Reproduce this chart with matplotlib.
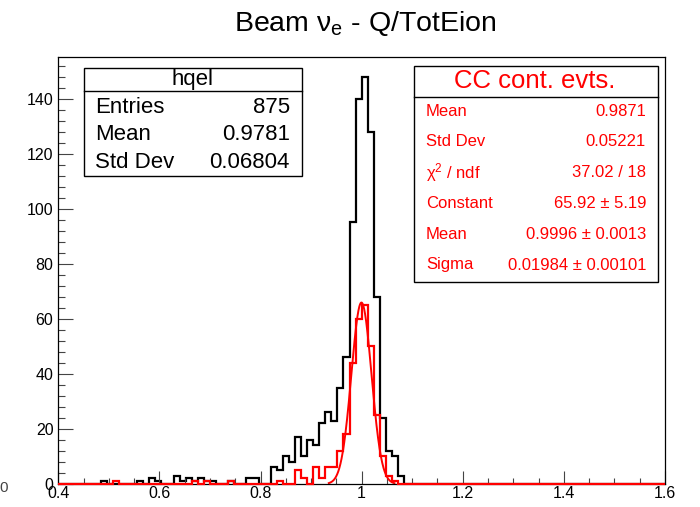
import numpy as np
import matplotlib
matplotlib.use("Agg")
import matplotlib.pyplot as plt
from matplotlib.patches import Rectangle
from matplotlib.lines import Line2D
from matplotlib.ticker import MultipleLocator

plt.rcParams["font.family"] = ["Liberation Sans", "DejaVu Sans"]
plt.rcParams["mathtext.fontset"] = "custom"
plt.rcParams["mathtext.rm"] = "Liberation Sans"
plt.rcParams["mathtext.it"] = "Liberation Sans:italic"
plt.rcParams["mathtext.bf"] = "Liberation Sans:bold"

# histogram binning: 100 bins on [0.4, 1.6]
X_MIN, X_MAX, N_BINS = 0.4, 1.6, 100

# all events (black): lower bin edge -> entries
black_lo = [0.484, 0.556, 0.580, 0.592, 0.628, 0.640, 0.652, 0.664, 0.676,
            0.688, 0.700, 0.736, 0.772, 0.784, 0.820, 0.832, 0.844, 0.856,
            0.868, 0.880, 0.892, 0.904, 0.916, 0.928, 0.940, 0.952, 0.964,
            0.976, 0.988, 1.000, 1.012, 1.024, 1.036, 1.048, 1.060, 1.072]
black_n = [1, 1, 2, 1, 3, 1, 2, 1, 2,
           1, 1, 1, 2, 2, 6, 5, 10, 8,
           17, 10, 16, 14, 22, 26, 23, 35, 46,
           95, 140, 148, 128, 68, 24, 12, 10, 3]

# CC contained events (red)
red_lo = [0.508, 0.664, 0.688, 0.736, 0.832, 0.868, 0.880, 0.904, 0.916,
          0.928, 0.940, 0.952, 0.964, 0.976, 0.988, 1.000, 1.012, 1.024,
          1.036, 1.048, 1.060]
red_n = [1, 1, 1, 1, 1, 5, 2, 6, 2,
         6, 6, 12, 18, 44, 60, 65, 50, 25,
         10, 3, 1]

# gaussian fit result
fit_const, fit_mean, fit_sigma = 65.92, 0.9996, 0.01984
fit_range = (0.935, 1.065)

stats_black = [("Entries", "875"), ("Mean", "0.9781"), ("Std Dev", "0.06804")]
stats_red = [("Mean", "0.9871"), ("Std Dev", "0.05221"),
             (r"$\mathregular{\chi^{2}}$ / ndf", "37.02 / 18"),
             ("Constant", "65.92 \u00b1 5.19"),
             ("Mean", "0.9996 \u00b1 0.0013"), ("Sigma", "0.01984 \u00b1 0.00101")]

W, H = 700, 507


def fill_bins(lo, n):
    edges = np.linspace(X_MIN, X_MAX, N_BINS + 1)
    vals = np.zeros(N_BINS)
    idx = np.round((np.array(lo) - X_MIN) / (X_MAX - X_MIN) * N_BINS).astype(int)
    vals[idx] = n
    return edges, vals


def fx(x):
    return x / W


def fy(y):
    return 1 - y / H


fig = plt.figure(figsize=(W / 100, H / 100), dpi=100)
ax = fig.add_axes([fx(58.3), fy(484), (665 - 58.3) / W, (484 - 57.3) / H])

edges, vb = fill_bins(black_lo, black_n)
_, vr = fill_bins(red_lo, red_n)
ax.stairs(vb, edges, color="black", lw=1.6)
ax.stairs(vr, edges, color="red", lw=1.6, clip_on=False, zorder=3)
xf = np.linspace(fit_range[0], fit_range[1], 300)
ax.plot(xf, fit_const * np.exp(-0.5 * ((xf - fit_mean) / fit_sigma) ** 2),
        color="red", lw=1.4)

ax.set_xlim(X_MIN, X_MAX)
ax.set_ylim(0, 155)
ax.xaxis.set_major_locator(MultipleLocator(0.2))
ax.xaxis.set_minor_locator(MultipleLocator(0.05))
ax.yaxis.set_major_locator(MultipleLocator(20))
ax.yaxis.set_minor_locator(MultipleLocator(4))
ax.set_xticks([0.4, 0.6, 0.8, 1.0, 1.2, 1.4, 1.6])
ax.set_xticklabels(["0.4", "0.6", "0.8", "1", "1.2", "1.4", "1.6"])
ax.tick_params(axis="x", which="major", direction="in", length=9.5, width=0.8,
               labelsize=11.5, pad=1.5, color="#444444")
ax.tick_params(axis="x", which="minor", direction="in", length=4.5, width=0.8,
               color="#444444")
ax.tick_params(axis="y", which="major", direction="in", length=11, width=0.8,
               labelsize=11.5, pad=3.5, color="#444444")
ax.tick_params(axis="y", which="minor", direction="in", length=5, width=0.8,
               color="#444444")
for s in ax.spines.values():
    s.set_linewidth(0.9)
    s.set_color("black")

# title
fig.text(fx(365), fy(23), r"Beam $\mathregular{\nu_{e}}$ - Q/TotEion",
         ha="center", va="center", fontsize=20.5)
fig.text(fx(8), fy(488), "0", ha="right", va="center", fontsize=11, color="#444444")

# stats box (black)
fig.add_artist(Rectangle((fx(84), fy(176)), fx(302 - 84), (176 - 67.5) / H,
                         transform=fig.transFigure, facecolor="white",
                         edgecolor="black", lw=1.0))
fig.add_artist(Line2D([fx(84), fx(302)], [fy(91), fy(91)], color="black", lw=1.0))
fig.text(fx(193), fy(79.5), "hqel", ha="center", va="center", fontsize=16)
for i, (k, v) in enumerate(stats_black):
    y = 107.5 + i * 27.5
    fig.text(fx(95), fy(y), k, ha="left", va="center", fontsize=16)
    fig.text(fx(290), fy(y), v, ha="right", va="center", fontsize=16)

# stats box (red)
fig.add_artist(Rectangle((fx(414), fy(281.5)), fx(658.3 - 414), (281.5 - 65.7) / H,
                         transform=fig.transFigure, facecolor="white",
                         edgecolor="black", lw=1.0))
fig.add_artist(Line2D([fx(414), fx(658.3)], [fy(96.5), fy(96.5)], color="black", lw=1.0))
fig.text(fx(535), fy(81), "CC cont. evts.", ha="center", va="center",
         fontsize=18.5, color="red")
for i, (k, v) in enumerate(stats_red):
    y = 111 + i * 30.8
    fig.text(fx(426), fy(y), k, ha="left", va="center", fontsize=12, color="red")
    fig.text(fx(646), fy(y), v, ha="right", va="center", fontsize=12, color="red")

fig.savefig("out.png", dpi=100)
